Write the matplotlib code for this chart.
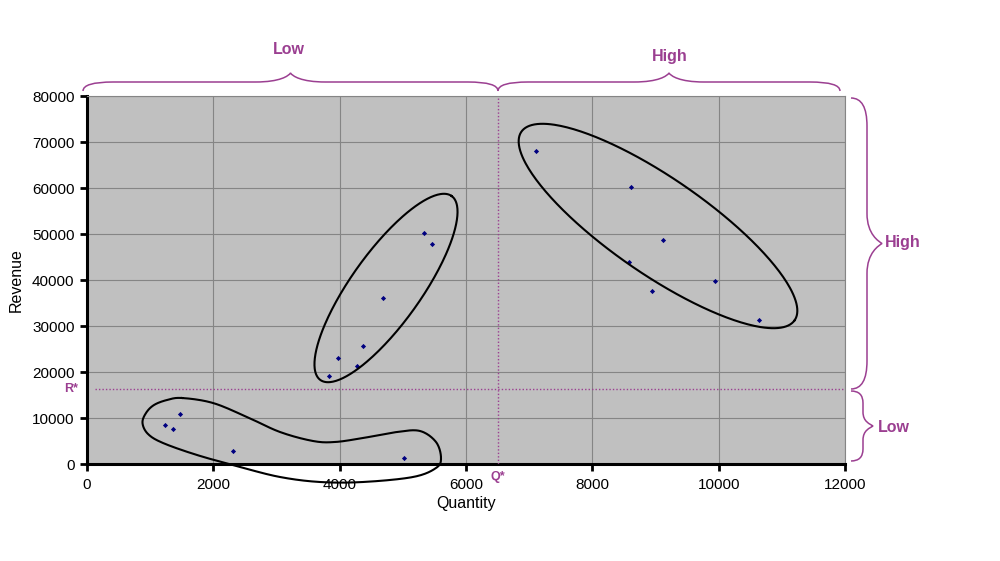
import numpy as np
import matplotlib
matplotlib.use("Agg")
import matplotlib.pyplot as plt
from matplotlib.path import Path
from matplotlib.patches import PathPatch

# ---- data ----
quantity = [1240, 1366, 1477, 2316, 5018,
            5340, 5457, 4681, 4369, 3973, 4279, 3831,
            7103, 8617, 9118, 8585, 8939, 9937, 10643]
revenue = [8400, 7600, 10800, 2800, 1400,
           50300, 47800, 36000, 25700, 23000, 21200, 19100,
           68000, 60200, 48700, 43900, 37600, 39800, 31200]
x_ticks = [0, 2000, 4000, 6000, 8000, 10000, 12000]
y_ticks = [0, 10000, 20000, 30000, 40000, 50000, 60000, 70000, 80000]
q_star = 6500
r_star = 16300
segment_labels = ["Low", "High"]

PURPLE = "#9B3F91"
W, H = 1000, 561

plt.rcParams['font.family'] = ['Liberation Sans', 'DejaVu Sans']
fig = plt.figure(figsize=(W / 100, H / 100), dpi=100)
ax = fig.add_axes([87 / W, 1 - 464 / H, 758 / W, 368 / H])
ax.set_facecolor("#C0C0C0")
ax.set_xlim(0, 12000)
ax.set_ylim(0, 80000)
ax.set_xticks(x_ticks)
ax.set_yticks(y_ticks)
ax.grid(True, color="#858585", linewidth=0.8)
ax.set_axisbelow(True)
for s in ["top", "right"]:
    ax.spines[s].set_color("#858585")
    ax.spines[s].set_linewidth(0.8)
for s in ["left", "bottom"]:
    ax.spines[s].set_color("black")
    ax.spines[s].set_linewidth(2.2)
ax.tick_params(axis="both", direction="out", length=5, width=2, labelsize=11, pad=4)
ax.tick_params(axis="x", pad=5)
ax.set_xlabel("Quantity", fontsize=11.5, labelpad=3)
ax.set_ylabel("Revenue", fontsize=11.5, labelpad=6)

ax.scatter(quantity, revenue, marker="D", s=7, color="#000080", zorder=5, linewidths=0)

ax.axvline(q_star, color=PURPLE, linestyle=(0, (1, 1.5)), linewidth=1, zorder=3)
ax.axhline(r_star, xmin=0.01, color=PURPLE, linestyle=(0, (1, 1.5)), linewidth=1, zorder=3)

ax.text(-150, r_star, "R*", color=PURPLE, fontsize=9, fontweight="bold",
        ha="right", va="center", clip_on=False)
ax.text(q_star, -1500, "Q*", color=PURPLE, fontsize=9, fontweight="bold",
        ha="center", va="top", clip_on=False)


def fig_pt(x, y):
    return (x / W, 1 - y / H)


def ellipse(cx, cy, a, b, ang_deg):
    t = np.linspace(0, 2 * np.pi, 300)
    th = np.deg2rad(ang_deg)
    x = cx + a * np.cos(t) * np.cos(th) - b * np.sin(t) * np.sin(th)
    y = cy + a * np.cos(t) * np.sin(th) + b * np.sin(t) * np.cos(th)
    return x / W, 1 - y / H


# ellipses in pixel space (y downward)
ex, ey = ellipse(386, 288, 113, 35, -54.5)
fig.add_artist(plt.Line2D(ex, ey, color="black", lw=1.5, transform=fig.transFigure))
ex, ey = ellipse(658, 226, 166, 48, 34.6)
fig.add_artist(plt.Line2D(ex, ey, color="black", lw=1.5, transform=fig.transFigure))

# bean shape around low cluster (closed Catmull-Rom spline)
blob = np.array([(182, 398), (213, 403), (247, 417), (280, 432), (313, 441),
                 (335, 442), (363, 438), (397, 432), (420, 431), (436, 442),
                 (441, 458), (436, 468), (413, 477), (363, 482), (320, 482),
                 (280, 477), (240, 467), (197, 455), (163, 443), (148, 434),
                 (142.5, 423), (146, 413), (154, 405), (167, 400)], float)


def catmull(pts, n=20):
    out = []
    m = len(pts)
    for i in range(m):
        p0, p1, p2, p3 = pts[i - 1], pts[i], pts[(i + 1) % m], pts[(i + 2) % m]
        for t in np.linspace(0, 1, n, endpoint=False):
            t2, t3 = t * t, t * t * t
            out.append(0.5 * ((2 * p1) + (-p0 + p2) * t + (2 * p0 - 5 * p1 + 4 * p2 - p3) * t2
                              + (-p0 + 3 * p1 - 3 * p2 + p3) * t3))
    out.append(out[0])
    return np.array(out)


bc = catmull(blob)
fig.add_artist(plt.Line2D(bc[:, 0] / W, 1 - bc[:, 1] / H, color="black", lw=1.5,
                          transform=fig.transFigure))


def hbrace(x0, x1, yend, yh, ytip, r=30, rt=35):
    xm = (x0 + x1) / 2
    verts = [(x0, yend), (x0, yh), (x0 + r, yh),
             (xm - rt, yh),
             (xm - rt * 0.3, yh), (xm - 2, ytip + 3), (xm, ytip),
             (xm + 2, ytip + 3), (xm + rt * 0.3, yh), (xm + rt, yh),
             (x1 - r, yh),
             (x1, yh), (x1, yend)]
    codes = [Path.MOVETO, Path.CURVE3, Path.CURVE3, Path.LINETO,
             Path.CURVE4, Path.CURVE4, Path.CURVE4,
             Path.CURVE4, Path.CURVE4, Path.CURVE4,
             Path.LINETO, Path.CURVE3, Path.CURVE3]
    verts = [fig_pt(*v) for v in verts]
    fig.add_artist(PathPatch(Path(verts, codes), fill=False, edgecolor=PURPLE, lw=1.1,
                             transform=fig.transFigure))


def vbrace(y0, y1, xend, xh, xtip, r=30, rt=35):
    ym = (y0 + y1) / 2
    verts = [(xend, y0), (xh, y0), (xh, y0 + r),
             (xh, ym - rt),
             (xh, ym - rt * 0.3), (xtip - 3, ym - 2), (xtip, ym),
             (xtip - 3, ym + 2), (xh, ym + rt * 0.3), (xh, ym + rt),
             (xh, y1 - r),
             (xh, y1), (xend, y1)]
    codes = [Path.MOVETO, Path.CURVE3, Path.CURVE3, Path.LINETO,
             Path.CURVE4, Path.CURVE4, Path.CURVE4,
             Path.CURVE4, Path.CURVE4, Path.CURVE4,
             Path.LINETO, Path.CURVE3, Path.CURVE3]
    verts = [fig_pt(*v) for v in verts]
    fig.add_artist(PathPatch(Path(verts, codes), fill=False, edgecolor=PURPLE, lw=1.1,
                             transform=fig.transFigure))


hbrace(83, 498, 91, 82, 73)
hbrace(498, 840, 91, 82, 73)
vbrace(98, 389, 851, 867, 882, r=28, rt=30)
vbrace(391, 461, 851, 863, 873, r=12, rt=14)

kw = dict(color=PURPLE, fontsize=11.5, fontweight="bold", transform=fig.transFigure)
fig.text(*fig_pt(289, 50), segment_labels[0], ha="center", va="center", **kw)
fig.text(*fig_pt(670, 57), segment_labels[1], ha="center", va="center", **kw)
fig.text(*fig_pt(885, 243), segment_labels[1], ha="left", va="center", **kw)
fig.text(*fig_pt(878, 428), segment_labels[0], ha="left", va="center", **kw)

fig.savefig("out.png", dpi=100, facecolor="white")
